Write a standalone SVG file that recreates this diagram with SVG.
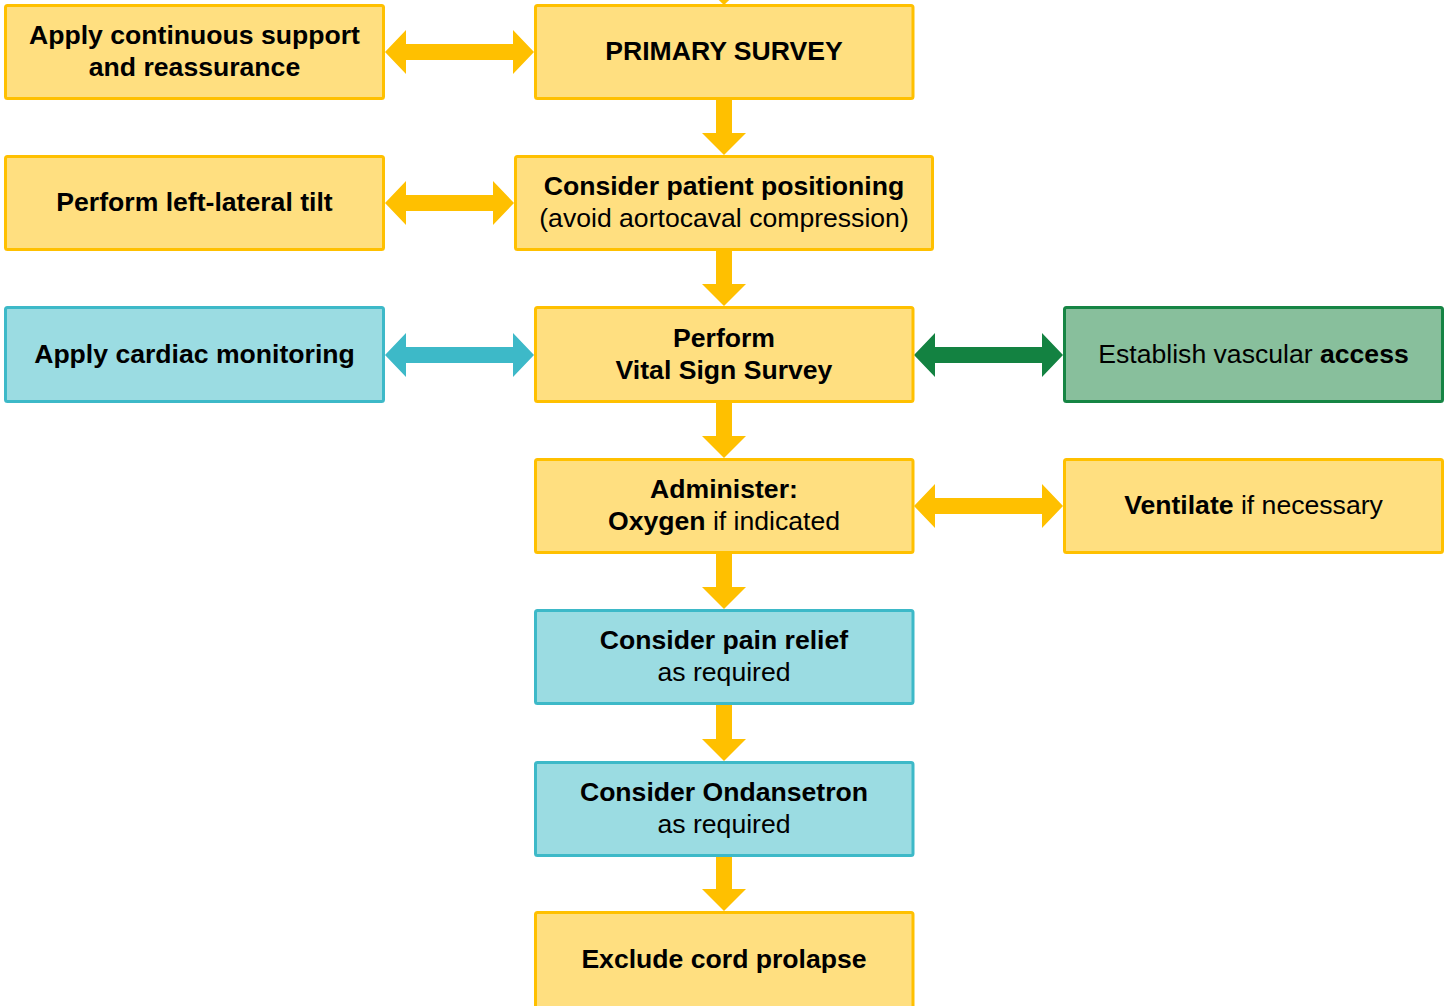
<svg xmlns="http://www.w3.org/2000/svg" width="1447" height="1006" viewBox="0 0 1447 1006">
<style>
text{font-family:"Liberation Sans",Arial,sans-serif;font-size:26.6px;fill:#000;text-anchor:middle}
.b{font-weight:bold}
.y rect{fill:#FFDF80;stroke:#FFC000;stroke-width:3}
.c rect{fill:#9BDCE2;stroke:#3DB9C8;stroke-width:3}
.g rect{fill:#88BF9C;stroke:#168544;stroke-width:3}
.ay{fill:#FFC000}
.ac{fill:#3DB9C8}
.ag{fill:#138241}
</style>
<rect width="1447" height="1006" fill="#fff"/>
<g id="connectors">
<polygon class="ay" points="701,-17 747,-17 724,5"/>
<polygon class="ay" points="716,100 732,100 732,133 746,133 724,155 702,133 716,133"/>
<polygon class="ay" points="716,251 732,251 732,284 746,284 724,306 702,284 716,284"/>
<polygon class="ay" points="716,403 732,403 732,436 746,436 724,458 702,436 716,436"/>
<polygon class="ay" points="716,554 732,554 732,587 746,587 724,609 702,587 716,587"/>
<polygon class="ay" points="716,705 732,705 732,739 746,739 724,761 702,739 716,739"/>
<polygon class="ay" points="716,857 732,857 732,889 746,889 724,911 702,889 716,889"/>
<polygon class="ay" points="385,52 406,30 406,44 513,44 513,30 534,52 513,74 513,60 406,60 406,74"/>
<polygon class="ay" points="385,203 406,181 406,195 493,195 493,181 514,203 493,225 493,211 406,211 406,225"/>
<polygon class="ac" points="385,355 406,333 406,347 513,347 513,333 534,355 513,377 513,363 406,363 406,377"/>
<polygon class="ag" points="914,355 935,333 935,347 1042,347 1042,333 1063,355 1042,377 1042,363 935,363 935,377"/>
<polygon class="ay" points="914,506 935,484 935,498 1042,498 1042,484 1063,506 1042,528 1042,514 935,514 935,528"/>
</g>
<g id="support" class="y"><rect x="5.5" y="5.5" width="378" height="93" rx="2"/><text class="b" x="194.5" y="44">Apply continuous support</text><text class="b" x="194.5" y="76">and reassurance</text></g>
<g id="primary" class="y"><rect x="535.5" y="5.5" width="377.5" height="93" rx="2"/><text class="b" x="724" y="60">PRIMARY SURVEY</text></g>
<g id="tilt" class="y"><rect x="5.5" y="156.5" width="378" height="93" rx="2"/><text class="b" x="194.5" y="211">Perform left-lateral tilt</text></g>
<g id="positioning" class="y"><rect x="515.5" y="156.5" width="417" height="93" rx="2"/><text class="b" x="724" y="195">Consider patient positioning</text><text x="724" y="227">(avoid aortocaval compression)</text></g>
<g id="cardiac" class="c"><rect x="5.5" y="307.5" width="378" height="94" rx="2"/><text class="b" x="194.5" y="363">Apply cardiac monitoring</text></g>
<g id="vital" class="y"><rect x="535.5" y="307.5" width="377.5" height="94" rx="2"/><text class="b" x="724" y="347">Perform</text><text class="b" x="724" y="379">Vital Sign Survey</text></g>
<g id="vascular" class="g"><rect x="1064.5" y="307.5" width="378" height="94" rx="2"/><text x="1253.5" y="363">Establish vascular <tspan class="b">access</tspan></text></g>
<g id="administer" class="y"><rect x="535.5" y="459.5" width="377.5" height="93" rx="2"/><text class="b" x="724" y="498">Administer:</text><text x="724" y="530"><tspan class="b">Oxygen</tspan> if indicated</text></g>
<g id="ventilate" class="y"><rect x="1064.5" y="459.5" width="378" height="93" rx="2"/><text x="1253.5" y="514"><tspan class="b">Ventilate</tspan> if necessary</text></g>
<g id="pain" class="c"><rect x="535.5" y="610.5" width="377.5" height="93" rx="2"/><text class="b" x="724" y="649">Consider pain relief</text><text x="724" y="681">as required</text></g>
<g id="ondansetron" class="c"><rect x="535.5" y="762.5" width="377.5" height="93" rx="2"/><text class="b" x="724" y="801">Consider Ondansetron</text><text x="724" y="833">as required</text></g>
<g id="cord" class="y"><rect x="535.5" y="912.5" width="377.5" height="96" rx="2"/><text class="b" x="724" y="968">Exclude cord prolapse</text></g>
</svg>
